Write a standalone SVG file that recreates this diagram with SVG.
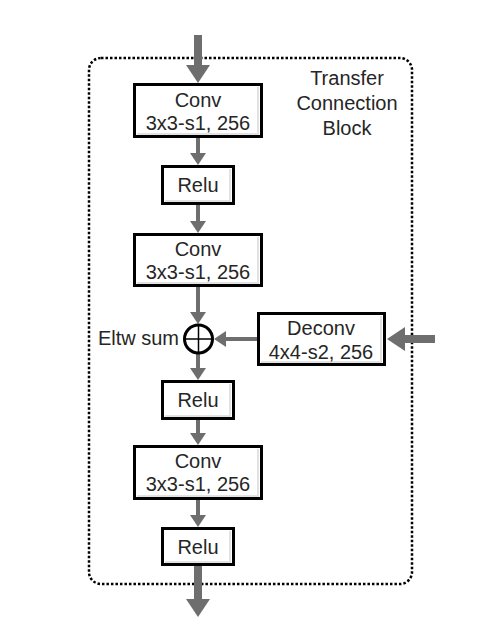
<svg xmlns="http://www.w3.org/2000/svg" width="485" height="634" viewBox="0 0 485 634">
<style>
  .box { fill: #ffffff; stroke: #000000; stroke-width: 3; }
  .shade { fill: none; stroke: #e2e2e2; stroke-width: 2; }
  .lbl { font-family: "Liberation Sans", Arial, sans-serif; font-size: 20px; fill: #262626; text-anchor: middle; }
  .thin { stroke: #6e6e6e; stroke-width: 4; fill: none; marker-end: url(#headThin); }
  .thick { stroke: #6e6e6e; stroke-width: 8; fill: none; marker-end: url(#headThick); }
</style>
<defs>
  <marker id="headThin" markerUnits="userSpaceOnUse" markerWidth="12" markerHeight="16" viewBox="0 0 12 16" refX="1" refY="8" orient="auto">
    <path d="M0,0 L12,8 L0,16 Z" fill="#6e6e6e"/>
  </marker>
  <marker id="headThick" markerUnits="userSpaceOnUse" markerWidth="18" markerHeight="24" viewBox="0 0 18 24" refX="1" refY="12" orient="auto">
    <path d="M0,0 L18,12 L0,24 Z" fill="#6e6e6e"/>
  </marker>
</defs>
<rect width="485" height="634" fill="#ffffff"/>

<g id="block-frame">
  <rect x="89" y="58" width="323" height="526" rx="12" ry="12" fill="none" stroke="#000000" stroke-width="2.5" stroke-dasharray="2.5 2"/>
  <text class="lbl" x="347" y="85">Transfer</text>
  <text class="lbl" x="347" y="110">Connection</text>
  <text class="lbl" x="347" y="135">Block</text>
</g>

<g id="connectors">
  <line class="thick" x1="198" y1="35" x2="198" y2="66"/>
  <line class="thin" x1="198" y1="138" x2="198" y2="154"/>
  <line class="thin" x1="198" y1="205" x2="198" y2="222"/>
  <line class="thin" x1="198" y1="287" x2="198" y2="313"/>
  <line class="thin" x1="257" y1="339" x2="225" y2="339"/>
  <line class="thick" x1="435" y1="339" x2="404" y2="339"/>
  <line class="thin" x1="198" y1="354" x2="198" y2="369"/>
  <line class="thin" x1="198" y1="420" x2="198" y2="434"/>
  <line class="thin" x1="198" y1="500" x2="198" y2="516"/>
  <line class="thick" x1="198" y1="566" x2="198" y2="600"/>
</g>

<g id="conv1">
  <rect class="box" x="134.5" y="84.5" width="127" height="52"/>
  <polyline class="shade" points="258,87 258,134 137,134"/>
  <text class="lbl" x="198" y="107">Conv</text>
  <text class="lbl" x="198" y="130">3x3-s1, 256</text>
</g>

<g id="relu1">
  <rect class="box" x="162.5" y="166.5" width="71" height="37"/>
  <polyline class="shade" points="230,169 230,201 165,201"/>
  <text class="lbl" x="198" y="192">Relu</text>
</g>

<g id="conv2">
  <rect class="box" x="134.5" y="234.5" width="127" height="51"/>
  <polyline class="shade" points="258,237 258,283 137,283"/>
  <text class="lbl" x="198" y="256">Conv</text>
  <text class="lbl" x="198" y="279">3x3-s1, 256</text>
</g>

<g id="eltw-sum">
  <circle cx="198.5" cy="339" r="14" fill="#ffffff" stroke="#000000" stroke-width="3"/>
  <line x1="184.5" y1="339" x2="212.5" y2="339" stroke="#000000" stroke-width="1.5"/>
  <line x1="198.5" y1="325" x2="198.5" y2="353" stroke="#000000" stroke-width="1.5"/>
  <text class="lbl" x="179" y="345" style="text-anchor:end">Eltw sum</text>
</g>

<g id="deconv">
  <rect class="box" x="258.5" y="313.5" width="126" height="51"/>
  <polyline class="shade" points="381,316 381,362 261,362"/>
  <text class="lbl" x="321" y="335">Deconv</text>
  <text class="lbl" x="321" y="359">4x4-s2, 256</text>
</g>

<g id="relu2">
  <rect class="box" x="162.5" y="381.5" width="71" height="37"/>
  <polyline class="shade" points="230,384 230,416 165,416"/>
  <text class="lbl" x="198" y="407">Relu</text>
</g>

<g id="conv3">
  <rect class="box" x="134.5" y="446.5" width="127" height="52"/>
  <polyline class="shade" points="258,449 258,496 137,496"/>
  <text class="lbl" x="198" y="468">Conv</text>
  <text class="lbl" x="198" y="491">3x3-s1, 256</text>
</g>

<g id="relu3">
  <rect class="box" x="162.5" y="528.5" width="71" height="36"/>
  <polyline class="shade" points="230,531 230,562 165,562"/>
  <text class="lbl" x="198" y="554">Relu</text>
</g>
</svg>
